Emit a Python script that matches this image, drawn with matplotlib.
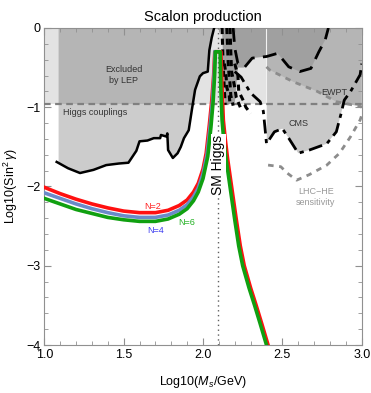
import matplotlib
matplotlib.use("Agg")
import matplotlib.pyplot as plt

plt.rcParams["font.family"] = ["Liberation Sans", "DejaVu Sans"]
plt.rcParams["mathtext.fontset"] = "custom"
plt.rcParams["mathtext.rm"] = "Liberation Sans"
plt.rcParams["mathtext.it"] = "Liberation Sans:italic"

# --- data ---
# scalon curves (left branch, then right branch past the Higgs peak)
red_x = [1.0, 1.1, 1.2, 1.3, 1.4, 1.5, 1.6, 1.7, 1.78, 1.85, 1.9, 1.94, 1.97, 2.0, 2.02, 2.04,
         2.055, 2.067, 2.074, 2.113, 2.12, 2.128, 2.14, 2.155, 2.18, 2.21, 2.235, 2.26, 2.3,
         2.335, 2.37, 2.41]
red_y = [-2.01, -2.09, -2.16, -2.22, -2.27, -2.31, -2.33, -2.33, -2.30, -2.24, -2.17, -2.07,
         -1.96, -1.78, -1.58, -1.22, -0.92, -0.6, -0.3, -0.3, -0.75, -1.16, -1.4, -1.65, -2.0,
         -2.42, -2.75, -3.0, -3.28, -3.5, -3.73, -4.0]
blue_x = [1.0, 1.1, 1.2, 1.3, 1.4, 1.5, 1.6, 1.7, 1.78, 1.85, 1.9, 1.94, 1.97, 2.0, 2.025, 2.045,
          2.06, 2.07, 2.076]
blue_y = [-2.08, -2.15, -2.22, -2.28, -2.33, -2.37, -2.39, -2.39, -2.36, -2.30, -2.23, -2.13,
          -2.02, -1.84, -1.6, -1.24, -0.92, -0.6, -0.3]
green_x = [1.0, 1.1, 1.2, 1.3, 1.4, 1.5, 1.6, 1.7, 1.78, 1.85, 1.9, 1.94, 1.97, 2.0, 2.03, 2.05,
           2.064, 2.073, 2.078, 2.108, 2.112, 2.12, 2.13, 2.145, 2.17, 2.2, 2.225, 2.25, 2.29,
           2.325, 2.36, 2.40]
green_y = [-2.15, -2.22, -2.29, -2.34, -2.39, -2.42, -2.44, -2.44, -2.41, -2.35, -2.28, -2.18,
           -2.07, -1.9, -1.62, -1.25, -0.92, -0.6, -0.3, -0.3, -0.75, -1.16, -1.4, -1.65, -2.0,
           -2.42, -2.75, -3.0, -3.28, -3.5, -3.73, -4.0]

# LEP exclusion boundary (solid black)
lep_x = [1.078, 1.15, 1.225, 1.31, 1.39, 1.47, 1.53, 1.55, 1.58, 1.60, 1.65, 1.69, 1.73, 1.735,
         1.77, 1.775, 1.78, 1.81, 1.84, 1.86, 1.88, 1.91, 1.93, 1.95, 1.98, 2.0, 2.03, 2.04,
         2.055, 2.07]
lep_y = [-1.69, -1.77, -1.83, -1.79, -1.73, -1.71, -1.70, -1.64, -1.55, -1.43, -1.42, -1.39,
         -1.39, -1.35, -1.37, -1.33, -1.54, -1.64, -1.58, -1.50, -1.39, -1.29, -1.03, -0.78,
         -0.61, -0.57, -0.55, -0.28, -0.12, 0.0]

higgs_coupling = -0.96
sm_higgs = 2.097

# upper black dashed boundary
bd_x = [2.19, 2.2, 2.22, 2.26, 2.31, 2.40, 2.47, 2.54, 2.61, 2.68, 2.73, 2.77, 2.79]
bd_y = [0.0, -0.25, -0.45, -0.5, -0.38, -0.36, -0.32, -0.49, -0.55, -0.51, -0.30, -0.15, 0.0]
# darker region between the Higgs peak and the upper dashed boundary
dark_x = [2.12, 2.13, 2.14, 2.2, 2.22, 2.26, 2.31, 2.40, 2.47, 2.54, 2.61, 2.68, 2.73, 2.77, 2.79]
dark_y = [0.0, -0.6, -0.97, -0.95, -0.5, -0.5, -0.38, -0.36, -0.32, -0.49, -0.55, -0.51, -0.30,
          -0.15, 0.0]
# CMS dash-dot boundary
cms_x = [2.2, 2.24, 2.27, 2.30, 2.36, 2.38, 2.39, 2.40, 2.45, 2.50, 2.54, 2.60, 2.67, 2.78,
         2.84, 2.87, 2.89, 2.93, 2.99, 3.0]
cms_y = [-0.55, -0.62, -0.72, -0.82, -0.93, -1.05, -1.25, -1.46, -1.31, -1.27, -1.39, -1.58,
         -1.54, -1.46, -1.31, -1.08, -0.91, -0.80, -0.59, -0.45]
# ragged dashed limits near the Higgs mass
rag1_x = [2.12, 2.125, 2.13, 2.135, 2.14]
rag1_y = [0.0, -0.35, -0.6, -0.8, -0.97]
rag2_x = [2.15, 2.155, 2.16, 2.17, 2.175, 2.19]
rag2_y = [0.0, -0.25, -0.5, -0.7, -0.85, -0.98]
rag3_x = [2.17, 2.175, 2.18, 2.2, 2.21, 2.235]
rag3_y = [0.0, -0.3, -0.55, -0.75, -0.88, -1.0]
rag4_x = [2.2, 2.22, 2.225, 2.25, 2.27, 2.3]
rag4_y = [-0.45, -0.6, -0.8, -0.9, -1.0, -1.08]
rag5_x = [2.135, 2.145, 2.15, 2.165, 2.17]
rag5_y = [-0.45, -0.6, -0.75, -0.85, -0.95]

# EWPT and LHC-HE (gray dashed)
ewpt_x = [2.40, 2.42, 2.57, 2.72, 2.84, 2.99, 3.0]
ewpt_y = [-0.49, -0.53, -0.68, -0.80, -0.93, -0.99, -1.0]
lhche_x = [2.41, 2.49, 2.53, 2.59, 2.67, 2.78, 2.86, 2.93, 2.99, 3.0]
lhche_y = [-1.73, -1.75, -1.83, -1.92, -1.85, -1.73, -1.58, -1.37, -1.16, -1.1]

fig = plt.figure(figsize=(3.71, 3.93), dpi=100)
ax = fig.add_axes([0.1194, 0.1221, 0.8556, 0.8067])
ax.set_xlim(1.0, 3.0)
ax.set_ylim(-4, 0)

# --- shaded regions ---
ax.fill_between([1.0, 3.0], higgs_coupling, 0, color="k", alpha=0.11, lw=0, zorder=1)
ax.fill(lep_x + [2.07, 1.09, 1.09], lep_y + [0.0, 0.0, -1.69], color="k", alpha=0.2,
        lw=0, zorder=1)
ax.fill([2.4] + cms_x[7:] + [3.0, 2.4], [0.0] + cms_y[7:] + [0.0, 0.0], color="#c9c9c9",
        lw=0, zorder=1.2)
ax.fill(ewpt_x + [3.0, 2.4], ewpt_y + [0.0, 0.0], color="#b5b5b5", lw=0, zorder=1.3)
ax.fill(dark_x, dark_y, color="#a0a0a0", lw=0, zorder=1.4)
ax.plot([2.4, 2.4], [0, -1.46], color="#f2f2f2", lw=0.8, zorder=2)

# --- limit lines ---
ax.axhline(higgs_coupling, color="#808080", lw=1.6, ls=(0, (3, 2)), zorder=3)
ax.plot(lep_x, lep_y, color="k", lw=1.8, zorder=4)
ax.plot(bd_x, bd_y, color="k", lw=2, ls=(0, (5, 3)), zorder=4)
ax.plot(cms_x, cms_y, color="k", lw=2, ls=(0, (5, 2, 1.5, 2)), zorder=4)
for rx, ry in [(rag1_x, rag1_y), (rag2_x, rag2_y), (rag3_x, rag3_y), (rag4_x, rag4_y),
               (rag5_x, rag5_y)]:
    ax.plot(rx, ry, color="k", lw=2.2, ls=(0, (2, 1.5)), zorder=4)
ax.plot(ewpt_x, ewpt_y, color="#8c8c8c", lw=2, ls=(0, (2, 2)), zorder=3)
ax.plot(lhche_x, lhche_y, color="#8c8c8c", lw=2, ls=(0, (2, 2)), zorder=3)

# --- scalon curves ---
ax.axvline(sm_higgs, color="#606060", lw=1, ls=(0, (1, 2.5)), zorder=3)
ax.plot(red_x, red_y, color="#ff1010", lw=2.6, zorder=5, solid_joinstyle="round")
ax.plot(blue_x, blue_y, color="#6a8ac8", lw=2.6, zorder=5)
ax.plot(green_x, green_y, color="#10a010", lw=2.6, zorder=6, solid_joinstyle="round")

# --- labels ---
ax.text(1.50, -0.59, "Excluded\nby LEP", fontsize=6.5, ha="center", va="center",
        color="#333333", zorder=7, linespacing=1.3)
ax.text(1.116, -1.07, "Higgs couplings", fontsize=6.5, ha="left", va="center",
        color="#333333", zorder=7)
ax.text(2.60, -1.20, "CMS", fontsize=6.5, ha="center", va="center", color="#333333", zorder=7)
ax.text(2.83, -0.81, "EWPT", fontsize=6.5, ha="center", va="center", color="#333333", zorder=7)
ax.text(2.71, -2.13, "LHC\u2212HE\nsensitivity", fontsize=6.5, ha="center", va="center",
        color="#999999", zorder=7, linespacing=1.3)
ax.text(1.68, -2.25, "N=2", fontsize=6.5, color="#ff2020", ha="center", va="center", zorder=7)
ax.text(1.70, -2.55, "N=4", fontsize=6.5, color="#3c3cf0", ha="center", va="center", zorder=7)
ax.text(1.90, -2.46, "N=6", fontsize=6.5, color="#20b020", ha="center", va="center", zorder=7)
ax.text(sm_higgs, -1.73, "SM Higgs", fontsize=10, rotation=90, ha="center", va="center",
        zorder=7, bbox=dict(facecolor="white", edgecolor="none", pad=0.5))

# --- axes styling ---
for s in ax.spines.values():
    s.set_color("#909090")
    s.set_linewidth(0.8)
ax.set_xticks([1.0, 1.5, 2.0, 2.5, 3.0])
ax.set_xticks([1.0 + 0.1 * i for i in range(21)], minor=True)
ax.set_yticks([0, -1, -2, -3, -4])
ax.set_yticklabels(["0", "\u22121", "\u22122", "\u22123", "\u22124"])
ax.set_yticks([-0.2 * i for i in range(21)], minor=True)
ax.tick_params(which="both", direction="in", top=True, right=True, color="#909090",
               labelsize=9, pad=3)
ax.tick_params(which="major", length=5, width=0.8)
ax.tick_params(which="minor", length=3, width=0.6)
ax.set_xlabel("Log10($M_s$/GeV)", fontsize=9, labelpad=9)
ax.set_ylabel("Log10(Sin$^2\\,\\gamma$)", fontsize=9, labelpad=4)
ax.set_title("Scalon production", fontsize=10.5, pad=5)

fig.savefig("out.png", dpi=100)
